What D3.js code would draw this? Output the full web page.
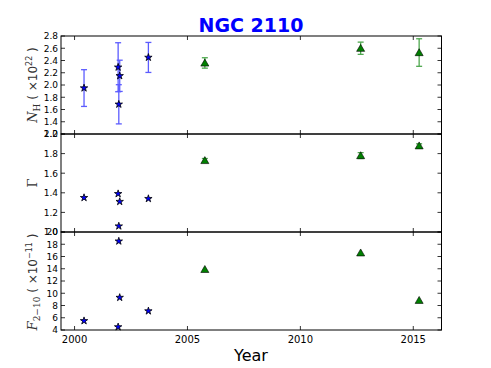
<!DOCTYPE html>
<html>
<head>
<meta charset="utf-8">
<script src="https://cdn.jsdelivr.net/npm/d3@7"></script>
<style>
body { margin: 0; background: #fff; }
text { font-family: "DejaVu Sans", sans-serif; }
</style>
</head>
<body>
<div id="chart"></div>
<script>
// early observations (stars)
var starYears = [2000.42, 2001.93, 2002.0, 2001.96, 2003.27];
var starNH = [1.95, 2.29, 2.15, 1.685, 2.45];
var starNHErr = [0.30, 0.40, 0.255, 0.32, 0.245];
var starGamma = [1.35, 1.39, 1.31, 1.06, 1.34];
var starFlux = [5.5, 4.5, 9.3, 18.5, 7.1];

// later observations (triangles)
var triYears = [2005.77, 2012.67, 2015.26];
var triNH = [2.36, 2.60, 2.53];
var triNHErr = [0.085, 0.10, 0.225];
var triGamma = [1.73, 1.78, 1.88];
var triGammaErr = [0.02, 0.03, 0.02];
var triFlux = [13.9, 16.6, 8.85];

var yearTicks = [2000, 2005, 2010, 2015];

var W = 491, H = 368;
var left = 61, right = 441.5;

var svg = d3.select("#chart").append("svg")
  .attr("width", W).attr("height", H);

var x = d3.scaleLinear().domain([1999.4, 2016.25]).range([left, right]);

var panels = [
  {top: 36, bottom: 134, domain: [1.2, 2.8], ticks: d3.range(1.2, 2.81, 0.2), fmt: d3.format(".1f"),
   stars: starNH, starErr: starNHErr, tris: triNH, triErr: triNHErr},
  {top: 134, bottom: 232, domain: [1.0, 2.0], ticks: d3.range(1.0, 2.01, 0.2), fmt: d3.format(".1f"),
   stars: starGamma, starErr: null, tris: triGamma, triErr: triGammaErr},
  {top: 232, bottom: 330, domain: [4, 20], ticks: d3.range(4, 20.1, 2), fmt: d3.format("d"),
   stars: starFlux, starErr: null, tris: triFlux, triErr: null}
];

var star = d3.symbol().type(d3.symbolStar).size(17);
var tri = d3.symbol().type(d3.symbolTriangle).size(28);

panels.forEach(function(p, i) {
  var y = d3.scaleLinear().domain(p.domain).range([p.bottom, p.top]);
  var g = svg.append("g");

  // error bars
  function errs(years, vals, err, color) {
    if (!err) return;
    years.forEach(function(yr, k) {
      var cx = x(yr), y1 = y(vals[k] + err[k]), y2 = y(vals[k] - err[k]);
      g.append("line").attr("x1", cx).attr("x2", cx).attr("y1", y1).attr("y2", y2)
        .style("stroke", color).style("stroke-width", 1.3);
      [y1, y2].forEach(function(yy) {
        g.append("line").attr("x1", cx - 3).attr("x2", cx + 3).attr("y1", yy).attr("y2", yy)
          .style("stroke", color).style("stroke-width", 1.3);
      });
    });
  }
  errs(starYears, p.stars, p.starErr, "#5c5cff");
  errs(triYears, p.tris, p.triErr, "#4fa84f");

  starYears.forEach(function(yr, k) {
    g.append("path").attr("d", star)
      .attr("transform", "translate(" + x(yr) + "," + y(p.stars[k]) + ")")
      .style("fill", "#0000ff").style("stroke", "#000").style("stroke-width", 0.8);
  });
  triYears.forEach(function(yr, k) {
    g.append("path").attr("d", tri)
      .attr("transform", "translate(" + x(yr) + "," + (y(p.tris[k]) + 0.8) + ")")
      .style("fill", "#008000").style("stroke", "#000").style("stroke-width", 0.6);
  });

  // ticks inside, all four sides
  yearTicks.forEach(function(t) {
    g.append("line").attr("x1", x(t)).attr("x2", x(t)).attr("y1", p.top).attr("y2", p.top + 4)
      .style("stroke", "#000").style("stroke-width", 0.8);
    g.append("line").attr("x1", x(t)).attr("x2", x(t)).attr("y1", p.bottom).attr("y2", p.bottom - 4)
      .style("stroke", "#000").style("stroke-width", 0.8);
  });
  p.ticks.forEach(function(t) {
    g.append("line").attr("x1", left).attr("x2", left + 4).attr("y1", y(t)).attr("y2", y(t))
      .style("stroke", "#000").style("stroke-width", 0.8);
    g.append("line").attr("x1", right).attr("x2", right - 4).attr("y1", y(t)).attr("y2", y(t))
      .style("stroke", "#000").style("stroke-width", 0.8);
    g.append("text").text(p.fmt(t))
      .attr("x", left - 3).attr("y", y(t) + 3.3)
      .attr("text-anchor", "end").style("font-size", "9px");
  });

  g.append("rect").attr("x", left).attr("y", p.top)
    .attr("width", right - left).attr("height", p.bottom - p.top)
    .style("fill", "none").style("stroke", "#000").style("stroke-width", 1);
});

// x tick labels
yearTicks.forEach(function(t) {
  svg.append("text").text(t).attr("x", x(t)).attr("y", 343)
    .attr("text-anchor", "middle").style("font-size", "10px");
});

svg.append("text").text("Year").attr("x", 251).attr("y", 361)
  .attr("text-anchor", "middle").style("font-size", "16px");

svg.append("text").text("NGC 2110").attr("x", 251).attr("y", 32)
  .attr("text-anchor", "middle").style("font-size", "19px")
  .style("font-weight", "bold").style("fill", "#0000ff");

// y labels
function ylab(cy, build) {
  var t = svg.append("text")
    .attr("transform", "translate(37," + cy + ") rotate(-90)")
    .attr("text-anchor", "middle").style("font-size", "13px").style("fill", "#333");
  build(t);
}
ylab(85, function(t) {
  t.append("tspan").text("N").style("font-family", "DejaVu Serif").style("font-style", "italic");
  t.append("tspan").text("H").attr("dy", 3).style("font-size", "9px").style("font-family", "DejaVu Serif");
  t.append("tspan").text(" ( \u00d710").attr("dy", -3).style("font-size", "12px");
  t.append("tspan").text("22").attr("dy", -5).style("font-size", "8px");
  t.append("tspan").text(" )").attr("dy", 5).style("font-size", "12px");
});
ylab(183, function(t) {
  t.append("tspan").text("\u0393").style("font-family", "DejaVu Serif");
});
ylab(282, function(t) {
  t.append("tspan").text("F").style("font-family", "DejaVu Serif").style("font-style", "italic");
  t.append("tspan").text("2\u221210").attr("dy", 3).style("font-size", "9px").style("font-family", "DejaVu Serif");
  t.append("tspan").text(" ( \u00d710").attr("dy", -3).style("font-size", "12px");
  t.append("tspan").text("\u221211").attr("dy", -5).style("font-size", "8px");
  t.append("tspan").text(" )").attr("dy", 5).style("font-size", "12px");
});
</script>
</body>
</html>
